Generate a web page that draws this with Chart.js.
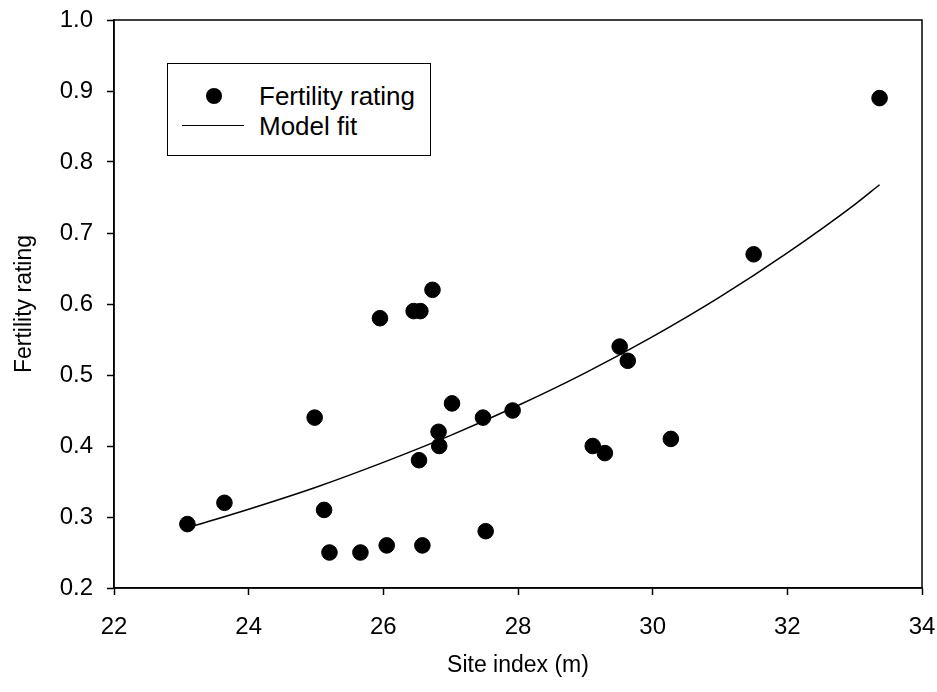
<!DOCTYPE html>
<html>
<head>
<meta charset="utf-8">
<script src="https://cdn.jsdelivr.net/npm/chart.js@4.4.1/dist/chart.umd.min.js"></script>
<style>
    body { margin: 0; background: #fff; overflow: hidden; }
    #contenedor { position: relative; width: 937px; height: 692px; }
    #leyenda {
        position: absolute; left: 167px; top: 63px; width: 262px; height: 91px;
        border: 1.5px solid #000; background: #fff;
        font-family: "Liberation Sans", Arial, sans-serif; font-size: 26px; color: #000;
    }
    .item { position: absolute; left: 0; height: 30px; display: flex; align-items: center; }
    .muestra { width: 91px; position: relative; height: 30px; }
    .punto { position: absolute; left: 38px; top: 7px; width: 16px; height: 16px; border-radius: 50%; background: #000; }
    .linea { position: absolute; left: 14px; top: 14px; width: 62px; height: 0; border-top: 1.5px solid #000; }
</style>
</head>
<body>
<div id="contenedor">
    <canvas id="grafica"></canvas>
    <div id="leyenda"></div>
</div>
<script>
// observed points
const siteIndex = [23.09, 23.64, 24.98, 25.12, 25.20, 25.66, 25.95, 26.05, 26.45, 26.55, 26.53, 26.58, 26.73,
    26.82, 26.83, 27.02, 27.48, 27.52, 27.92, 29.11, 29.29, 29.51, 29.63, 30.27, 31.50, 33.37];
const fertilityRating = [0.29, 0.32, 0.44, 0.31, 0.25, 0.25, 0.58, 0.26, 0.59, 0.59, 0.38, 0.26, 0.62,
    0.42, 0.40, 0.46, 0.44, 0.28, 0.45, 0.40, 0.39, 0.54, 0.52, 0.41, 0.67, 0.89];

// model fit line
const fitX = [23.1, 24, 25, 26, 27, 28, 29, 30, 31, 32, 33, 33.37];
const fitY = [0.285, 0.311, 0.342, 0.377, 0.415, 0.457, 0.503, 0.554, 0.610, 0.672, 0.740, 0.768];

const xTicks = [22, 24, 26, 28, 30, 32, 34];
const yTicks = [0.2, 0.3, 0.4, 0.5, 0.6, 0.7, 0.8, 0.9, 1.0];

const fuente = '"Liberation Sans", Arial, sans-serif';

const puntos = siteIndex.map((x, i) => ({ x: x, y: fertilityRating[i] }));
const ajuste = fitX.map((x, i) => ({ x: x, y: fitY[i] }));

// box around the plot area
const marco = {
    id: 'marco',
    afterDraw(chart) {
        const { ctx, chartArea } = chart;
        ctx.save();
        ctx.strokeStyle = '#000';
        ctx.lineWidth = 1.5;
        ctx.strokeRect(chartArea.left, chartArea.top, chartArea.right - chartArea.left, chartArea.bottom - chartArea.top);
        ctx.restore();
    }
};

const grafica = new Chart(document.getElementById('grafica'), {
    type: 'scatter',
    data: {
        datasets: [{
            label: 'Fertility rating',
            data: puntos,
            backgroundColor: '#000',
            borderColor: '#000',
            pointRadius: 7.8,
            pointHoverRadius: 7.8
        }, {
            label: 'Model fit',
            data: ajuste,
            showLine: true,
            borderColor: '#000',
            borderWidth: 1.5,
            pointRadius: 0,
            cubicInterpolationMode: 'monotone'
        }]
    },
    options: {
        responsive: true,
        maintainAspectRatio: false,
        animation: false,
        layout: { padding: { top: 20, right: 15, left: 0, bottom: 0 } },
        plugins: {
            legend: { display: false },
            tooltip: { enabled: false }
        },
        scales: {
            x: {
                type: 'linear',
                min: 22,
                max: 34,
                afterBuildTicks: (eje) => { eje.ticks = xTicks.map(v => ({ value: v })); },
                afterFit: (eje) => { eje.height = 104; eje.paddingLeft = 0; eje.paddingRight = 0; },
                grid: { drawOnChartArea: false, drawTicks: true, tickLength: 7, tickColor: '#000', tickWidth: 1.5 },
                border: { color: '#000', width: 1.5 },
                ticks: { color: '#000', font: { family: fuente, size: 24 }, padding: 18 },
                title: { display: true, text: 'Site index (m)', color: '#000', font: { family: fuente, size: 23 }, padding: { top: 0, bottom: 13 } }
            },
            y: {
                type: 'linear',
                min: 0.2,
                max: 1.0,
                afterBuildTicks: (eje) => { eje.ticks = yTicks.map(v => ({ value: v })); },
                afterFit: (eje) => { eje.width = 114; eje.paddingTop = 0; eje.paddingBottom = 0; },
                grid: { drawOnChartArea: false, drawTicks: true, tickLength: 7, tickColor: '#000', tickWidth: 1.5 },
                border: { color: '#000', width: 1.5 },
                ticks: { color: '#000', font: { family: fuente, size: 24 }, padding: 14, callback: (v) => v.toFixed(1) },
                title: { display: true, text: 'Fertility rating', color: '#000', font: { family: fuente, size: 23 }, padding: { top: 11, bottom: 0 } }
            }
        }
    },
    plugins: [marco]
});

// legend drawn inside the plot like the original
function mostrarLeyenda() {
    const leyenda = document.getElementById('leyenda');
    grafica.data.datasets.forEach((ds, i) => {
        const item = document.createElement('div');
        item.className = 'item';
        item.style.top = (i === 0 ? 17 : 47) + 'px';
        const muestra = document.createElement('div');
        muestra.className = 'muestra';
        const marca = document.createElement('div');
        marca.className = ds.showLine ? 'linea' : 'punto';
        muestra.appendChild(marca);
        const texto = document.createElement('span');
        texto.textContent = ds.label;
        item.appendChild(muestra);
        item.appendChild(texto);
        leyenda.appendChild(item);
    });
}

mostrarLeyenda();
</script>
</body>
</html>
